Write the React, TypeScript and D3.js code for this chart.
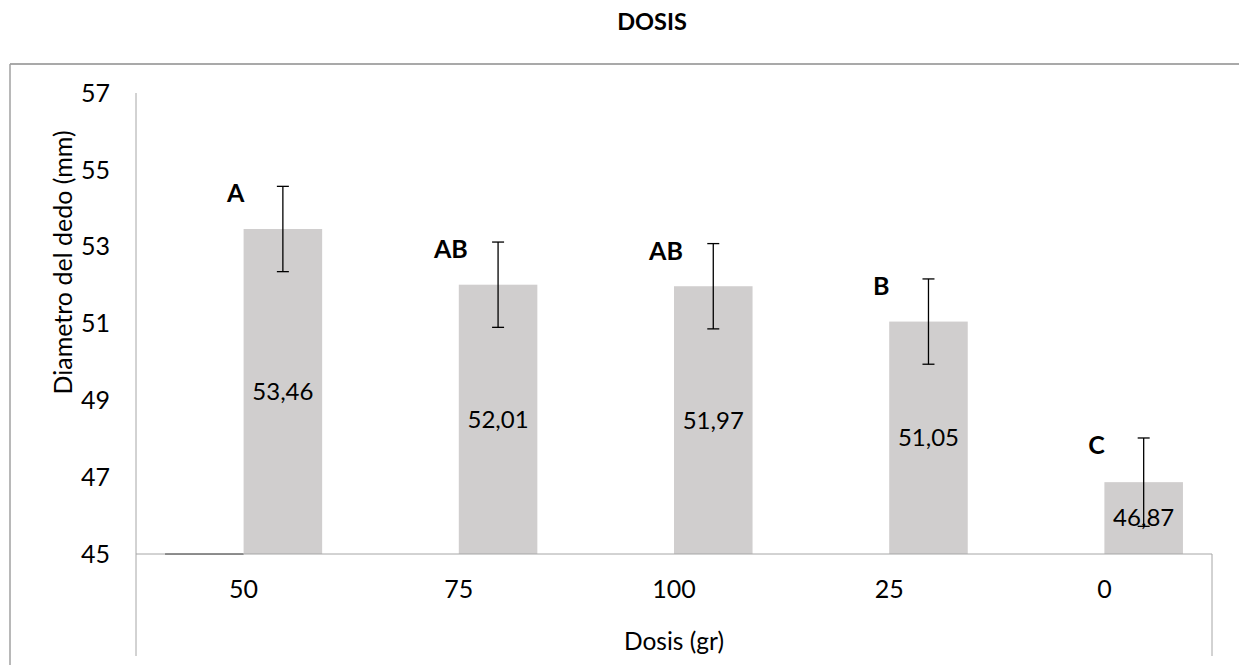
import * as d3 from 'd3';

// datos
const categories = ['50', '75', '100', '25', '0'];
const baseSeries = [45.05, 45, 45, 45, 45];
const means = [53.46, 52.01, 51.97, 51.05, 46.87];
const errors = [1.11, 1.11, 1.11, 1.11, 1.15];
const letters = ['A', 'AB', 'AB', 'B', 'C'];
const yTicks = [45, 47, 49, 51, 53, 55, 57];

const W = 1239;
const H = 665;
const FONT = 'Lato, "Open Sans", sans-serif';

const App = () => {
  const left = 136;
  const right = 1212;
  const top = 93;
  const bottom = 554;

  const y = d3.scaleLinear().domain([45, 57]).range([bottom, top]);
  const x0 = d3
    .scaleBand()
    .domain(categories)
    .range([left, right])
    .paddingInner(0.27)
    .paddingOuter(0.135);
  const x1 = d3.scaleBand().domain(['s1', 's2']).range([0, x0.bandwidth()]);

  const fmt = (v: number) => d3.format('.2f')(v).replace('.', ',');

  return (
    <svg
      width={W}
      height={H}
      style={{ position: 'absolute', left: 0, top: 0, background: '#fff' }}
      fontFamily={FONT}
    >
      {/* titulo */}
      <text x={652} y={30} textAnchor="middle" fontSize={23.5} fontWeight="bold" fill="#000">
        DOSIS
      </text>

      {/* marco */}
      <line x1={10} x2={W} y1={64} y2={64} stroke="#8c8c8c" strokeWidth={1.5} />
      <line x1={10} x2={10} y1={64} y2={H} stroke="#a0a0a0" strokeWidth={1.5} />

      {/* eje y */}
      <line x1={left} x2={left} y1={top} y2={656} stroke="#a6a6a6" />
      {yTicks.map(t => (
        <text key={t} x={left - 26} y={y(t)} dy="0.35em" textAnchor="end" fontSize={25} fill="#000">
          {t}
        </text>
      ))}
      <text
        transform={`translate(72,${(top + bottom) / 2 - 61}) rotate(-90)`}
        textAnchor="middle"
        fontSize={25}
        fill="#000"
      >
        Diametro del dedo (mm)
      </text>

      {/* barras */}
      {categories.map((c, i) => {
        const gx = x0(c) as number;
        const bx = gx + (x1('s2') as number);
        const bw = x1.bandwidth();
        const cx = bx + bw / 2;
        return (
          <g key={c}>
            <rect
              x={gx + (x1('s1') as number)}
              y={y(baseSeries[i]) + 1}
              width={bw}
              height={Math.max(0, y(45) - y(baseSeries[i]))}
              fill="#6f6f6f"
            />
            <rect x={bx} y={y(means[i])} width={bw} height={y(45) - y(means[i])} fill="#d0cece" />
            <text
              x={cx}
              y={(y(means[i]) + y(45)) / 2}
              dy="0.35em"
              textAnchor="middle"
              fontSize={24}
              fill="#000"
            >
              {fmt(means[i])}
            </text>
            {/* barra de error */}
            <line x1={cx} x2={cx} y1={y(means[i] + errors[i])} y2={y(means[i] - errors[i])} stroke="#000" strokeWidth={1.3} />
            <line x1={cx - 6} x2={cx + 6} y1={y(means[i] + errors[i])} y2={y(means[i] + errors[i])} stroke="#000" strokeWidth={1.3} />
            <line x1={cx - 6} x2={cx + 6} y1={y(means[i] - errors[i])} y2={y(means[i] - errors[i])} stroke="#000" strokeWidth={1.3} />
            {/* letras */}
            <text
              x={gx + x0.bandwidth() / 2 - 8}
              y={y(means[i] + errors[i]) + 16}
              textAnchor="middle"
              fontSize={25}
              fontWeight="bold"
              fill="#000"
            >
              {letters[i]}
            </text>
            {/* etiqueta categoria */}
            <text
              x={gx + x0.bandwidth() / 2}
              y={598}
              textAnchor="middle"
              fontSize={25}
              fill="#000"
            >
              {c}
            </text>
          </g>
        );
      })}

      {/* eje x */}
      <line x1={left} x2={right} y1={bottom} y2={bottom} stroke="#a6a6a6" />
      <line x1={right} x2={right} y1={bottom} y2={656} stroke="#a6a6a6" />
      <text x={(left + right) / 2} y={650} textAnchor="middle" fontSize={24.5} fill="#000">
        Dosis (gr)
      </text>
    </svg>
  );
};

export default App;
